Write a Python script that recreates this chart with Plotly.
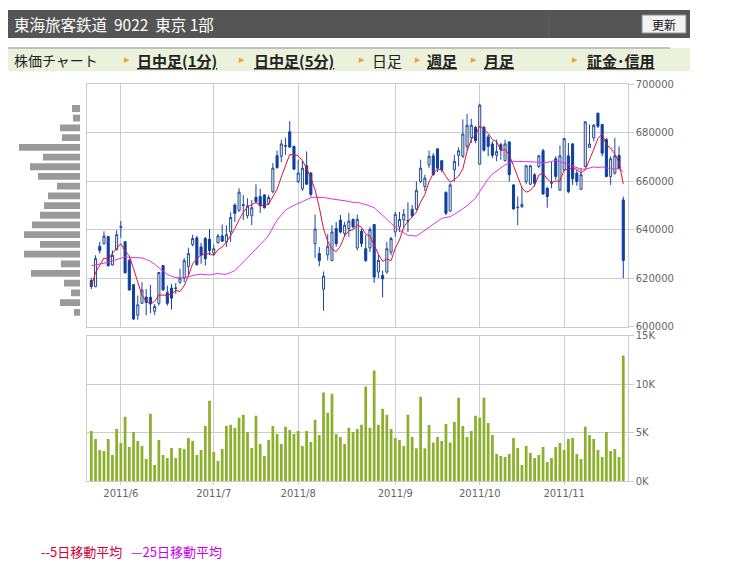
import plotly.graph_objects as go
import pandas as pd

# page body has an 8px margin; vertical placement calibrated against the rendered page
OFF = 8
W, H = 730, 560

# ---------------- data ----------------
month_idx = [7, 29, 49, 72, 92, 112]
month_labels = ["2011/6", "2011/7", "2011/8", "2011/9", "2011/10", "2011/11"]

open_p = [619100, 616600, 633200, 634300, 637200, 625500, 631800, 641000, 635100, 627400,
          617400, 604800, 609700, 612300, 612200, 606400, 609700, 625300, 614100, 616000,
          615800, 618400, 620100, 624900, 633900, 636700, 632900, 636400, 636100, 630400,
          634700, 637500, 635000, 639100, 650200, 648000, 650000, 645800, 645800, 653400,
          653700, 654400, 650900, 655700, 670500, 670300, 674400, 680400, 674400, 659900,
          656900, 666400, 663400, 634300, 630200, 615500, 629700, 627400, 640500, 644000,
          638500, 640500, 644300, 632500, 639400, 632200, 632500, 642200, 622600, 621200,
          622600, 630800, 639100, 641200, 644000, 643800, 648400, 648600, 659900, 657800,
          666800, 670500, 673400, 668500, 655500, 647700, 664700, 670700, 670300, 674400,
          677900, 682300, 667100, 682300, 678300, 675400, 670700, 675100, 668500, 676200,
          658500, 649100, 649500, 659900, 658800, 662700, 666100, 672600, 657100, 659200,
          669300, 656400, 664700, 670500, 675400, 663400, 656700, 666100, 674000, 677900,
          688100, 683400, 677200, 662000, 663400, 670700, 652300]
high_p = [620100, 629500, 635000, 639400, 637400, 631500, 639800, 643600, 635300, 628100,
          617400, 612900, 618400, 615600, 617300, 609400, 622600, 625300, 617000, 617700,
          618100, 623900, 628400, 632600, 638000, 637500, 634600, 637100, 640300, 633900,
          638300, 642200, 641900, 647200, 650900, 657100, 654400, 653000, 652300, 658800,
          656900, 654600, 654400, 667500, 672600, 677200, 677900, 684800, 674700, 668900,
          668500, 672300, 663800, 646300, 632900, 622800, 638300, 641900, 643300, 646100,
          643300, 647000, 644700, 646300, 640500, 637800, 641200, 642200, 629700, 623200,
          635000, 637100, 647400, 647400, 648600, 651300, 650200, 659900, 668900, 662700,
          672600, 671600, 673400, 668500, 655700, 659200, 670900, 674000, 685500, 687800,
          685800, 682700, 692000, 682700, 679300, 676500, 677200, 675800, 677200, 676500,
          658800, 653700, 657800, 666800, 666800, 663400, 670900, 673400, 657800, 667900,
          670300, 674800, 677900, 675800, 675800, 664700, 665400, 684800, 683400, 683700,
          688200, 683700, 677900, 670300, 677900, 674400, 653700]
low_p = [615600, 616300, 630200, 633900, 624900, 625300, 631500, 636700, 621900, 614900,
         602900, 602900, 609400, 604800, 605700, 604800, 608700, 614900, 608700, 607100,
         613600, 617700, 618400, 621200, 633200, 625300, 626000, 625300, 629500, 629500,
         634300, 635000, 632900, 635000, 643300, 647400, 644000, 644700, 641900, 650900,
         647000, 648800, 650200, 655100, 665100, 667900, 670900, 673700, 664700, 659200,
         656000, 658500, 653700, 628400, 625000, 606600, 627400, 627000, 633000, 638500,
         637100, 637100, 640500, 631500, 632900, 626700, 630800, 618100, 620100, 612200,
         621900, 629500, 637100, 639100, 640500, 639100, 645000, 648100, 659200, 656000,
         665400, 662400, 663800, 663800, 646100, 647400, 659900, 666100, 669600, 672600,
         675800, 675800, 666800, 672300, 670300, 669600, 668200, 668900, 668200, 659900,
         648300, 641900, 649100, 658800, 658500, 657800, 665400, 654400, 649100, 657100,
         660600, 656000, 664300, 655100, 658500, 658200, 656400, 665700, 673700, 676500,
         682000, 670300, 661600, 658500, 662700, 664700, 620100]
close_p = [616600, 628100, 631500, 637400, 625200, 629500, 638000, 641300, 622300, 615200,
           603200, 609100, 615200, 610100, 609400, 608400, 622400, 615200, 609700, 611800,
           616000, 620100, 627300, 630200, 636400, 625600, 629500, 628100, 631500, 632200,
           637500, 635300, 638000, 645100, 646800, 655500, 650300, 649900, 649100, 651600,
           649900, 649100, 653300, 665400, 665700, 675400, 674700, 674100, 665000, 663400,
           665400, 658800, 654600, 640300, 627300, 620900, 633200, 639100, 634300, 639100,
           641900, 643600, 641200, 644300, 634300, 627400, 640100, 620500, 627400, 619800,
           632200, 636400, 646400, 644300, 646400, 643600, 645800, 656300, 665400, 661300,
           670300, 662700, 665400, 664700, 646800, 658500, 668200, 672600, 679500, 683100,
           683100, 676800, 691400, 672800, 674400, 670700, 672300, 673000, 675400, 662700,
           648600, 649300, 650500, 666400, 666400, 659200, 670500, 654800, 653700, 659400,
           662000, 670500, 677600, 655700, 661000, 659900, 662700, 684500, 675400, 683100,
           682700, 671600, 662000, 669300, 670500, 665400, 627400]

volume_k = [5.18, 4.36, 3.21, 3.11, 4.36, 2.70, 5.39, 3.94, 6.64, 3.53,
            5.08, 4.15, 3.63, 2.28, 6.95, 1.66, 4.25, 2.70, 2.39, 3.42,
            2.39, 3.42, 3.32, 4.46, 4.15, 2.70, 3.21, 5.70, 8.30, 3.01,
            2.07, 3.32, 5.70, 5.81, 5.50, 6.53, 6.84, 5.08, 3.42, 6.74,
            3.84, 2.59, 4.25, 5.70, 4.87, 3.84, 5.60, 5.29, 4.87, 5.18,
            3.63, 5.18, 4.04, 6.33, 4.77, 9.13, 7.05, 9.02, 4.87, 4.56,
            3.84, 5.50, 5.08, 5.39, 5.81, 9.75, 5.50, 11.41, 5.81, 7.47,
            6.84, 5.39, 4.46, 4.25, 3.63, 6.84,
            4.56, 3.40, 8.70, 3.40, 5.80, 4.00, 4.56, 4.15, 5.90, 4.00,
            6.10, 8.60, 5.70, 4.56, 5.18, 6.74, 6.53, 8.60, 6.00, 4.77,
            2.80, 2.60, 2.50, 2.80, 4.46, 3.42, 1.66, 3.63, 2.90, 2.39,
            2.70, 3.53, 1.97, 2.39, 3.53, 3.94, 3.21, 4.36, 4.46, 2.80,
            2.28, 5.60, 4.77, 4.36, 3.21, 2.50, 5.08, 3.11, 3.32, 2.50,
            12.96]

ma25 = [625200, 625500, 625700, 626200, 626700, 627200, 627800, 628300, 628800, 628700,
        628600, 628500, 628400, 627800, 627000, 625800, 624400, 623000, 621600, 620900,
        620300, 620200, 620200, 620700, 621200, 621500, 621700, 621600, 621400, 621700,
        622000, 621700, 621700, 622400, 623200, 624900, 626700, 628500, 630200, 631900,
        633600, 635700, 637800, 640900, 644000, 646100, 648100, 649200, 650200, 650900,
        651600, 652500, 653300, 653400, 653500, 653300, 653000, 652800, 652600, 652300,
        652000, 651700, 651300, 651300, 650900, 650500, 649800, 649100, 647600, 646100,
        644400, 642600, 641200, 639800, 638800, 637800, 637600, 637400, 638600, 639800,
        641000, 642200, 643500, 644700, 645100, 645400, 646400, 647400, 648700, 649900,
        651500, 653000, 655800, 658500, 661000, 663000, 664300, 665700, 666800, 667500,
        668200, 668200, 668200, 668200, 668200, 667900, 667900, 667500, 667900, 668200,
        668500, 668200, 667500, 666800, 666100, 665400, 665000, 665000, 665400, 665900,
        665700, 665900, 665400, 665400, 665000, 665400, 663800]

hist_price = [690000, 686000, 682000, 678000, 674000, 670000, 666000, 662000, 658000, 654000,
              650000, 646000, 642000, 638000, 634000, 630000, 626000, 622000, 618000, 614000,
              610000, 606000]
hist_volume = [8, 7, 20, 18, 61, 37, 50, 42, 23, 32, 36, 40, 48, 56, 40, 56, 19, 49, 16, 9, 20, 6]

days = list(range(len(close_p)))
ma5 = pd.Series(close_p).rolling(5, min_periods=1).mean().tolist()
volume = [v * 1000 for v in volume_k]


def X(p):
    return (p - OFF) / W


def Y(r):
    page = (r - 6.2) / 0.975
    return 1 - (page - OFF) / H


GRID = "#cccccc"
TICKFONT = dict(family="DejaVu Sans", size=10, color="#666666")
JP = "Noto Sans CJK JP"

fig = go.Figure()

fig.add_trace(go.Bar(x=hist_volume, y=hist_price, orientation="h", width=2800,
                     marker=dict(color="#9a9a9a", line=dict(width=0)),
                     xaxis="x3", yaxis="y3", hoverinfo="skip", showlegend=False))

fig.add_trace(go.Candlestick(
    x=days, open=open_p, high=high_p, low=low_p, close=close_p,
    increasing=dict(fillcolor="#fdf8c4", line=dict(color="#1c4aa8", width=1)),
    decreasing=dict(fillcolor="#0f3f9f", line=dict(color="#0f3f9f", width=1)),
    whiskerwidth=0, xaxis="x", yaxis="y", showlegend=False))

fig.add_trace(go.Scatter(x=days, y=ma25, mode="lines", line=dict(color="#e030f0", width=1),
                         xaxis="x", yaxis="y", showlegend=False))
fig.add_trace(go.Scatter(x=days, y=ma5, mode="lines", line=dict(color="#e0103a", width=1),
                         xaxis="x", yaxis="y", showlegend=False))

fig.add_trace(go.Bar(x=days, y=volume, marker=dict(color="#8db02c", line=dict(width=0)),
                     xaxis="x2", yaxis="y2", showlegend=False))

xdom = [X(87.3), X(627.7)]
xrange_ = [-0.95, 127.05]

axis_common = dict(showline=True, mirror=True, linecolor=GRID, linewidth=1,
                   gridcolor=GRID, gridwidth=1, zeroline=False)

fig.update_layout(
    width=W, height=H, autosize=False,
    margin=dict(l=0, r=0, t=0, b=0),
    paper_bgcolor="white", plot_bgcolor="white",
    showlegend=False, bargap=0.35,
    xaxis=dict(domain=xdom, range=xrange_, anchor="y", tickvals=month_idx,
               showticklabels=False, ticks="", showgrid=True,
               rangeslider=dict(visible=False), **axis_common),
    yaxis=dict(domain=[Y(325.7), Y(84)], range=[600000, 700000], anchor="x", side="right",
               dtick=20000, tickformat="d", ticks="outside", ticklen=5, tickcolor=GRID,
               tickfont=TICKFONT, showgrid=True, **axis_common),
    xaxis2=dict(domain=xdom, range=xrange_, anchor="y2", tickvals=month_idx,
                ticktext=month_labels, ticks="outside", ticklen=3, tickcolor=GRID,
                tickfont=dict(family="DejaVu Sans", size=10, color="#666666"),
                showgrid=True, **axis_common),
    yaxis2=dict(domain=[Y(479.5), Y(334.5)], range=[0, 15000], anchor="x2", side="right",
                tickvals=[0, 5000, 10000, 15000], ticktext=["0K", "5K", "10K", "15K"],
                ticks="outside", ticklen=5, tickcolor=GRID,
                tickfont=dict(family="DejaVu Sans", size=10, color="#666666"),
                showgrid=True, **axis_common),
    xaxis3=dict(domain=[X(8), X(80)], range=[72, 0], anchor="y3", visible=False),
    yaxis3=dict(domain=[Y(325.7), Y(84)], range=[600000, 700000], anchor="x3", visible=False),
)

shapes = []
# header bar
shapes.append(dict(type="rect", xref="paper", yref="paper", x0=X(8), x1=X(690), y0=Y(38), y1=Y(10),
                   fillcolor="#555555", line=dict(width=0), layer="below"))
shapes.append(dict(type="line", xref="paper", yref="paper", x0=X(549), x1=X(549), y0=Y(38), y1=Y(10),
                   line=dict(color="#616161", width=1)))
# update button
shapes.append(dict(type="rect", xref="paper", yref="paper", x0=X(642), x1=X(686), y0=Y(33), y1=Y(15),
                   fillcolor="#f2f2f2", line=dict(color="#8a8a8a", width=1)))
# menu bar
shapes.append(dict(type="rect", xref="paper", yref="paper", x0=X(8), x1=X(690), y0=Y(71), y1=Y(48),
                   fillcolor="#eaf2dc", line=dict(width=0), layer="below"))
shapes.append(dict(type="line", xref="paper", yref="paper", x0=X(8), x1=X(670), y0=Y(48), y1=Y(48),
                   line=dict(color="#b0b0b0", width=1.5)))
fig.update_layout(shapes=shapes)

ann = []
ann.append(dict(x=X(12), y=Y(24), xref="paper", yref="paper", xanchor="left", yanchor="middle",
                text="東海旅客鉄道  9022  東京 1部", showarrow=False,
                font=dict(family=JP, size=15.5, color="white")))
ann.append(dict(x=X(664), y=Y(24), xref="paper", yref="paper", xanchor="center", yanchor="middle",
                text="更新", showarrow=False, font=dict(family=JP, size=12, color="#111111")))
ann.append(dict(x=X(12), y=Y(60), xref="paper", yref="paper", xanchor="left", yanchor="middle",
                text="株価チャート", showarrow=False, font=dict(family=JP, size=14, color="#222222")))

menu = [(127, 135, "日中足(1分)", True), (242, 252, "日中足(5分)", True), (362, 370, "日足", False),
        (418, 425, "週足", True), (474, 482, "月足", True), (575, 585, "証金･信用", True)]
for ax, tx, label, link in menu:
    ann.append(dict(x=X(ax), y=Y(60), xref="paper", yref="paper", xanchor="center", yanchor="middle",
                    text="▶", showarrow=False, font=dict(family="DejaVu Sans", size=7, color="#f0a020")))
    f = dict(family=JP, size=15, color="#222222")
    if link:
        f.update(weight="bold", lineposition="under")
    ann.append(dict(x=X(tx), y=Y(60), xref="paper", yref="paper", xanchor="left", yanchor="middle",
                    text=label, showarrow=False, font=f))

ann.append(dict(x=X(39), y=Y(550), xref="paper", yref="paper", xanchor="left", yanchor="middle",
                text="--5日移動平均", showarrow=False, font=dict(family=JP, size=13, color="#d4003a")))
ann.append(dict(x=X(129), y=Y(550), xref="paper", yref="paper", xanchor="left", yanchor="middle",
                text="—25日移動平均", showarrow=False, font=dict(family=JP, size=13, color="#cc00ee")))
fig.update_layout(annotations=ann)

fig.write_html("out.html")
